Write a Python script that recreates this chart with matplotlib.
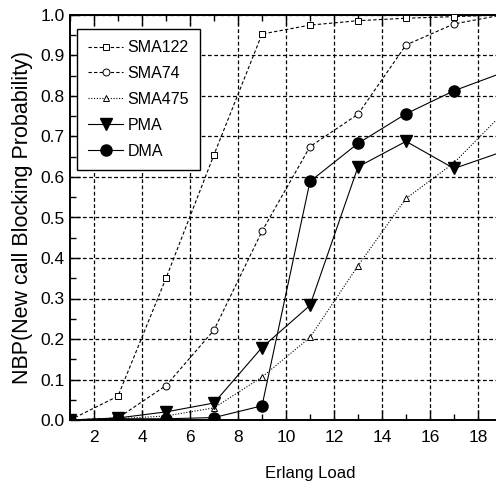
import matplotlib
matplotlib.use("Agg")
import matplotlib.pyplot as plt
from matplotlib.ticker import MultipleLocator

plt.rcParams['font.family'] = ['Liberation Sans', 'DejaVu Sans']

load = [1, 3, 5, 7, 9, 11, 13, 15, 17, 19]
sma122 = [0.0, 0.059, 0.35, 0.655, 0.953, 0.975, 0.986, 0.992, 0.996, 1.0]
sma74 = [0.0, 0.005, 0.085, 0.222, 0.466, 0.675, 0.755, 0.926, 0.978, 1.0]
sma475 = [0.0, 0.003, 0.01, 0.03, 0.106, 0.204, 0.381, 0.547, 0.635, 0.755]
pma = [0.0, 0.005, 0.02, 0.042, 0.179, 0.283, 0.625, 0.688, 0.621, 0.662]
dma = [0.0, 0.003, 0.003, 0.006, 0.035, 0.589, 0.683, 0.756, 0.813, 0.857]

xticks = [2, 4, 6, 8, 10, 12, 14, 16, 18]
yticks = [0.0, 0.1, 0.2, 0.3, 0.4, 0.5, 0.6, 0.7, 0.8, 0.9, 1.0]

fig = plt.figure(figsize=(4.96, 4.86), dpi=100)
W, H = 496, 486
x0, y0 = 70, 66
pxu = 24
ax = fig.add_axes([x0 / W, y0 / H, pxu * 20 / W, 405 / H])
ax.set_xlim(1, 21)
ax.set_ylim(0, 1.0)

lw = 0.8
ax.plot(load, sma122, linestyle=(0, (3, 2)), color='black', lw=lw, marker='s',
        markersize=4.5, markerfacecolor='white', markeredgewidth=0.7, label='SMA122', zorder=3)
ax.plot(load, sma74, linestyle=(0, (3, 2)), color='black', lw=lw, marker='o',
        markersize=5, markerfacecolor='white', markeredgewidth=0.7, label='SMA74', zorder=3)
ax.plot(load, sma475, linestyle=(0, (1, 1.5)), color='black', lw=lw, marker='^',
        markersize=5, markerfacecolor='white', markeredgewidth=0.7, label='SMA475', zorder=3)
ax.plot(load, pma, linestyle='-', color='black', lw=lw, marker='v',
        markersize=9, markerfacecolor='black', label='PMA', zorder=4)
ax.plot(load, dma, linestyle='-', color='black', lw=lw, marker='o',
        markersize=8, markerfacecolor='black', label='DMA', zorder=4)

ax.set_xticks(xticks)
ax.set_xticklabels([str(t) for t in xticks])
ax.set_yticks(yticks)
ax.set_yticklabels([f"{t:.1f}" for t in yticks])
ax.xaxis.set_minor_locator(MultipleLocator(1))
ax.yaxis.set_minor_locator(MultipleLocator(0.05))
ax.tick_params(which='both', direction='in', top=True, right=False, width=1.0, labelsize=12.5)
ax.tick_params(axis='y', pad=4)
ax.tick_params(axis='x', pad=7)
ax.tick_params(which='major', length=7)
ax.tick_params(which='minor', length=4)
ax.grid(True, which='major', color='black', linestyle=(0, (3, 2)), linewidth=0.9)
for s in ax.spines.values():
    s.set_linewidth(1.4)

ax.set_xlabel('Erlang Load', fontsize=12, labelpad=15)
ax.set_ylabel('NBP(New call Blocking Probability)', fontsize=15.5, labelpad=5)

leg = ax.legend(loc='upper left', bbox_to_anchor=(7 / 480, 1 - 14 / 405), fontsize=11.5,
                frameon=True, fancybox=False, edgecolor='black', framealpha=1,
                borderaxespad=0, handlelength=2.2, borderpad=0.7, labelspacing=0.68,
                handletextpad=0.25)
leg.get_frame().set_linewidth(1.0)

fig.savefig('out.png', dpi=100)
